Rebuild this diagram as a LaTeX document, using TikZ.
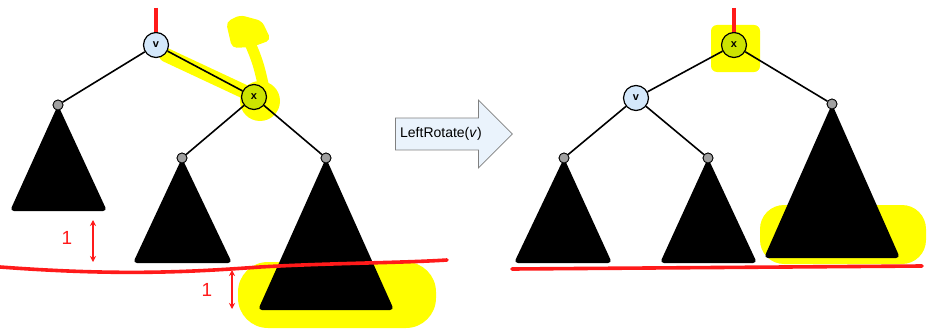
\documentclass[tikz,border=0pt]{standalone}
\usepackage{fontspec}
\setmainfont{Liberation Sans}
\usepackage{tikz}
\usetikzlibrary{arrows.meta,shapes.arrows,calc}
\definecolor{vblue}{HTML}{D4E8FB}
\definecolor{xgreen}{HTML}{CCE300}
\definecolor{dotgray}{HTML}{A0A0A0}
\definecolor{arrowfill}{HTML}{EAF3FC}
\definecolor{hilite}{HTML}{FFFF00}
\definecolor{pen}{HTML}{FF1A1A}

\begin{document}
\begin{tikzpicture}[
  x=1pt, y=-1pt,
  key/.style={draw, circle, line width=1.2pt, minimum size=25pt, inner sep=0pt,
    font=\bfseries\fontsize{11}{12}\selectfont},
  knob/.style={draw, circle, fill=dotgray, line width=0.8pt, minimum size=10pt, inner sep=0pt},
  edge/.style={line width=1.6pt},
  subtree/.style={fill=black, rounded corners=4pt},
  root/.style={pen, line width=4pt},
  marker/.style={hilite, line width=14pt, line cap=round, line join=round},
  level/.style={pen, line width=3.6pt, line cap=round},
  gap/.style={pen, line width=2.2pt, {Stealth[length=6pt,width=6pt]}-{Stealth[length=6pt,width=6pt]}},
  note/.style={pen, font=\fontsize{19}{20}\selectfont},
]
\useasboundingbox (0,0) rectangle (928,329);

% ---- yellow markers (behind everything)
\draw[marker] (166,55) -- (258,98);
\fill[hilite] (260,101) circle (20pt);
\draw[marker, line width=11pt] (264,88) .. controls (258,62) .. (247,36);
\fill[hilite, rounded corners=5pt] (226,22) -- (240,15) -- (262,21) -- (271,40) -- (252,47) -- (232,48) -- cycle;
\fill[hilite, rounded corners=30pt] (238,262) rectangle (436,328);
\fill[hilite, rounded corners=6pt] (711,25) rectangle (760,72);
\fill[hilite, rounded corners=24pt] (760,205) rectangle (926,264);

% ---- left tree (before rotation)
\node[key, fill=vblue] (v) at (156,45) {v};
\node[key, fill=xgreen] (x) at (254,97) {x};
\coordinate (vtop) at (156,8);
\draw[root] (vtop) -- (v);

\node[knob] (a) at (58,105) {};
\node[knob] (b) at (182,158) {};
\node[knob] (c) at (326,158) {};
\fill[subtree] (a.center) -- (107,211) -- (10,211) -- cycle;
\fill[subtree] (b.center) -- (232,263) -- (133,263) -- cycle;
\fill[subtree] (c.center) -- (394,310) -- (258,310) -- cycle;
\node[knob] at (a) {};
\node[knob] at (b) {};
\node[knob] at (c) {};

\draw[edge] (v) -- (a);
\draw[edge] (v) -- (x);
\draw[edge] (x) -- (b);
\draw[edge] (x) -- (c);

% ---- red level lines and height notes
\draw[level] (0,267) .. controls (120,276) and (190,272) .. (260,267)
  .. controls (330,263) and (400,263) .. (447,260);
\coordinate (g1a) at (93,220);
\coordinate (g1b) at (93,262);
\draw[gap] (g1a) -- (g1b);
\node[note] (one1) at (67,238) {1};
\coordinate (g2a) at (232,270);
\coordinate (g2b) at (232,309);
\draw[gap] (g2a) -- (g2b);
\node[note] (one2) at (207,290) {1};

% ---- the operation
\node[single arrow, draw=gray, fill=arrowfill, line width=0.8pt,
      single arrow head extend=18pt, minimum height=117pt,
      inner ysep=9pt, inner xsep=4pt, anchor=west,
      font=\fontsize{14}{16}\selectfont] (op) at (395,134)
  {LeftRotate(\textit{v})\hspace*{10pt}};

% ---- right tree (after rotation)
\node[key, fill=xgreen] (x2) at (734,45) {x};
\node[key, fill=vblue] (v2) at (636,98) {v};
\coordinate (xtop) at (734,8);
\draw[root] (xtop) -- (x2);

\node[knob] (a2) at (564,158) {};
\node[knob] (b2) at (708,158) {};
\node[knob] (c2) at (832,104) {};
\fill[subtree] (a2.center) -- (612,263) -- (514,263) -- cycle;
\fill[subtree] (b2.center) -- (757,263) -- (660,263) -- cycle;
\fill[subtree] (c2.center) -- (900,258) -- (764,258) -- cycle;
\node[knob] at (a2) {};
\node[knob] at (b2) {};
\node[knob] at (c2) {};

\draw[edge] (x2) -- (v2);
\draw[edge] (x2) -- (c2);
\draw[edge] (v2) -- (a2);
\draw[edge] (v2) -- (b2);

\draw[level] (512,269) -- (922,266);
\end{tikzpicture}
\end{document}
